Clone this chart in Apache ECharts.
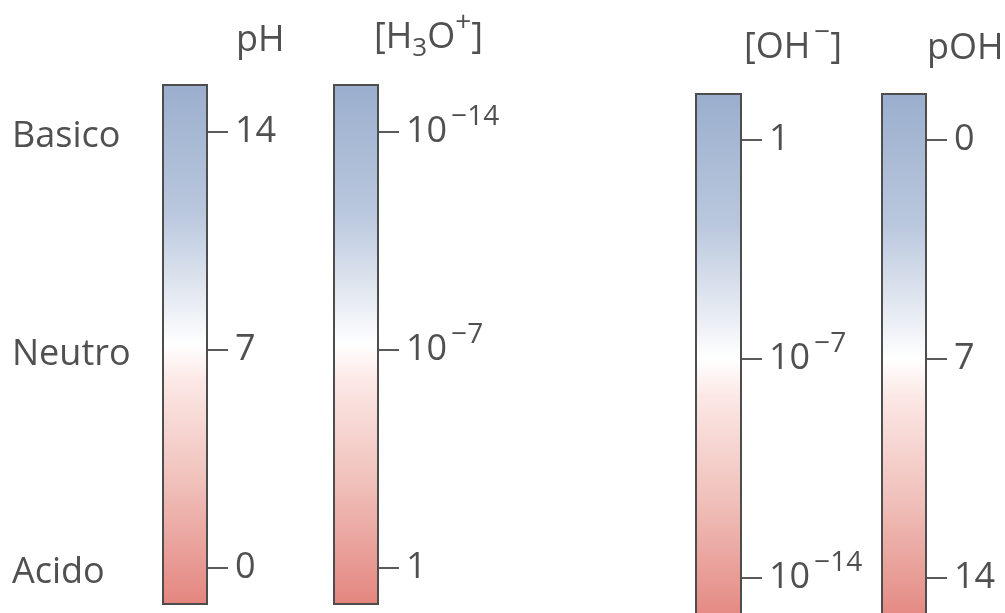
<!DOCTYPE html>
<html>
<head>
<meta charset="utf-8">
<script src="https://cdn.jsdelivr.net/npm/echarts@6/dist/echarts.min.js"></script>
<style>
  html, body { margin: 0; padding: 0; background: #fff; }
  #chart { width: 1005px; height: 613px; }
</style>
</head>
<body>
<div id="chart"></div>
<script>
// scales: name, tick values, tick labels, bar extent (axis units)
const scaleNames = ["pH", "[H{sub|3}O{tsup|+}]", "[OH{sup|−}]", "pOH"];
const phTicks = [0, 7, 14];
const phLabels = ["0", "7", "14"];
const h3oTicks = [0, -7, -14];
const h3oLabels = ["1", "10{sup|−7}", "10{sup|−14}"];
const ohTicks = [0, -7, -14];
const ohLabels = ["1", "10{sup|−7}", "10{sup|−14}"];
const pohTicks = [0, 7, 14];
const pohLabels = ["0", "7", "14"];
const sideTicks = [0, 7, 14];
const sideLabels = ["Acido", "Neutro", "Basico"];
// bar ends in axis units [low, high]
const phBar = [-1.19, 15.54];
const h3oBar = [-15.54, 1.19];
const ohBar = [-15.5, 1.5];
const pohBar = [-1.5, 15.5];

const chart = echarts.init(document.getElementById("chart"));
const FONT = "Open Sans";
const TXT = "#505050";

const rich = {
  sup: { fontSize: 28, fontFamily: FONT, color: TXT, padding: [0, 0, 30, 4] },
  tsup: { fontSize: 28, fontFamily: FONT, color: TXT, padding: [0, 0, 30, 0] },
  sub: { fontSize: 26, fontFamily: FONT, color: TXT, padding: [22, 0, 0, 0] },
  side: { fontSize: 36, fontFamily: FONT, color: TXT, padding: [10, 0, 0, 0] },
};

const barFill = new echarts.graphic.LinearGradient(0, 0, 0, 1, [
  { offset: 0, color: "#9aaecd" },
  { offset: 0.25, color: "#bac8de" },
  { offset: 0.44, color: "#eef1f6" },
  { offset: 0.5, color: "#ffffff" },
  { offset: 0.57, color: "#fbe8e5" },
  { offset: 0.77, color: "#f0bfb9" },
  { offset: 1, color: "#e4857f" },
]);

// grid placement (pixels)
const grids = [
  { left: 162, width: 46, top: 132, height: 436 },
  { left: 333, width: 46, top: 132, height: 436 },
  { left: 695, width: 47, top: 140, height: 438 },
  { left: 881, width: 46, top: 140, height: 438 },
];

const axes = [
  { ticks: phTicks, labels: phLabels, min: 0, max: 14, inverse: false, bar: phBar },
  { ticks: h3oTicks, labels: h3oLabels, min: -14, max: 0, inverse: true, bar: h3oBar },
  { ticks: ohTicks, labels: ohLabels, min: -14, max: 0, inverse: false, bar: ohBar },
  { ticks: pohTicks, labels: pohLabels, min: 0, max: 14, inverse: true, bar: pohBar },
];

const yAxis = axes.map((a, i) => ({
  type: "value",
  gridIndex: i,
  position: "right",
  min: a.min,
  max: a.max,
  interval: 7,
  inverse: a.inverse,
  splitLine: { show: false },
  axisLine: { show: false },
  axisTick: { show: true, inside: false, length: 20, lineStyle: { color: "#5a5a5a", width: 2 } },
  axisLabel: {
    margin: 27,
    fontSize: 36,
    fontFamily: FONT,
    color: TXT,
    rich: rich,
    formatter: (v) => a.labels[a.ticks.indexOf(v)] || "",
  },
}));

yAxis.push({
  type: "value",
  gridIndex: 0,
  position: "left",
  min: 0,
  max: 14,
  interval: 7,
  splitLine: { show: false },
  axisLine: { show: false },
  axisTick: { show: false },
  axisLabel: {
    margin: 150,
    align: "left",
    fontSize: 36,
    fontFamily: FONT,
    color: TXT,
    rich: rich,
    formatter: (v) => {
      const s = sideLabels[sideTicks.indexOf(v)];
      return s ? "{side|" + s + "}" : "";
    },
  },
});

const renderBar = (params, api) => {
  const x = api.value(0);
  const p0 = api.coord([x, api.value(1)]);
  const p1 = api.coord([x, api.value(2)]);
  const w = api.size([1, 0])[0];
  return {
    type: "rect",
    shape: {
      x: p0[0] - w / 2 + 1,
      y: Math.min(p0[1], p1[1]) + 1,
      width: w - 2,
      height: Math.abs(p1[1] - p0[1]) - 2,
    },
    style: { fill: barFill, stroke: "#4d4d4d", lineWidth: 2 },
  };
};

const titlePos = [
  { left: 236, top: 23 },
  { left: 374, top: 9 },
  { left: 744, top: 19 },
  { left: 927, top: 31 },
];

chart.setOption({
  animation: false,
  backgroundColor: "#fff",
  title: scaleNames.map((n, i) => ({
    text: n,
    left: titlePos[i].left,
    top: titlePos[i].top,
    padding: 0,
    textStyle: { fontSize: 36, fontWeight: "normal", fontFamily: FONT, color: TXT, rich: rich },
  })),
  grid: grids,
  xAxis: grids.map((g, i) => ({
    type: "category",
    gridIndex: i,
    data: ["x"],
    show: false,
  })),
  yAxis: yAxis,
  series: axes.map((a, i) => ({
    type: "custom",
    xAxisIndex: i,
    yAxisIndex: i,
    clip: false,
    renderItem: renderBar,
    encode: { x: 0, y: [1, 2] },
    data: [[0, a.bar[0], a.bar[1]]],
  })),
});
</script>
</body>
</html>
